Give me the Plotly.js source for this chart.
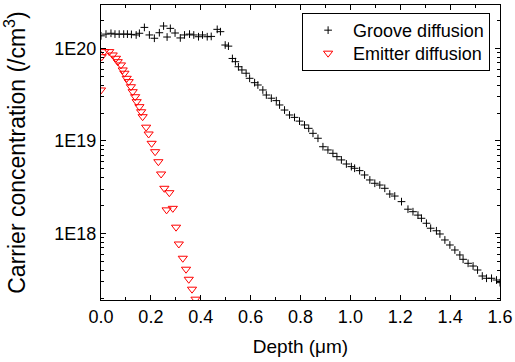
<!DOCTYPE html>
<html><head><meta charset="utf-8">
<script src="https://cdn.plot.ly/plotly-3.0.1.min.js"></script>
<style>html,body{margin:0;padding:0;background:#fff}#chart{width:515px;height:362px}</style>
</head><body><div id="chart"></div>
<script>
// Groove diffusion profile (depth in µm, concentration in /cm^3)
var grooveX = [0.000,0.020,0.040,0.056,0.073,0.091,0.106,0.122,0.141,0.154,0.174,0.194,0.214,0.234,0.251,0.265,0.278,0.297,0.318,0.335,0.355,0.372,0.391,0.407,0.426,0.442,0.466,0.479,
  0.498,0.511,0.527,0.539,0.551,0.565,0.582,0.596,0.616,0.629,0.649,0.663,0.683,0.703,0.716,0.736,0.756,0.776,0.796,0.816,
  0.833,0.850,0.870,0.890,0.910,0.930,0.946,0.964,0.984,1.004,1.017,1.037,1.057,1.078,1.098,1.118,1.138,1.158,1.178,1.205,
  1.231,1.251,1.271,1.285,1.305,1.322,1.345,1.359,1.379,1.399,1.419,1.439,1.452,1.472,1.492,1.510,1.529,1.546,1.566,1.586,1.600];
var grooveY = [1.37e20,1.43e20,1.46e20,1.43e20,1.43e20,1.43e20,1.43e20,1.42e20,1.40e20,1.46e20,1.69e20,1.40e20,1.29e20,1.48e20,1.75e20,1.33e20,1.65e20,1.47e20,1.30e20,1.40e20,1.43e20,1.40e20,1.34e20,1.40e20,1.34e20,1.35e20,1.61e20,1.52e20,
  1.09e20,1.06e20,7.8e19,7.2e19,6.35e19,5.86e19,5.40e19,4.76e19,4.27e19,4.03e19,3.56e19,3.14e19,2.90e19,2.73e19,2.45e19,2.16e19,1.91e19,1.80e19,1.64e19,1.49e19,
  1.37e19,1.21e19,1.07e19,8.67e18,8.0e18,7.36e18,6.77e18,6.24e18,5.64e18,5.28e18,5.07e18,4.78e18,4.29e18,3.79e18,3.49e18,3.34e18,3.08e18,2.67e18,2.54e18,2.21e18,
  1.83e18,1.72e18,1.58e18,1.46e18,1.29e18,1.14e18,1.07e18,9.88e17,8.51e17,7.51e17,6.63e17,5.86e17,5.26e17,4.76e17,4.45e17,4.03e17,3.47e17,3.28e17,3.28e17,3.14e17,2.94e17];

// Emitter diffusion profile
var emitterX = [0.000,0.003,0.013,0.033,0.047,0.060,0.067,0.080,0.087,0.094,0.103,0.111,0.120,0.127,0.137,0.143,0.154,0.161,0.167,
  0.181,0.191,0.203,0.217,0.230,0.241,0.254,0.263,0.274,0.288,0.301,0.312,0.328,0.341,0.352,0.365,0.379];
var emitterY = [3.56e19,8.15e19,9.25e19,9.25e19,8.51e19,7.84e19,7.2e19,6.64e19,5.86e19,5.40e19,4.76e19,4.38e19,3.86e19,3.41e19,3.01e19,2.66e19,2.35e19,2.07e19,1.83e19,
  1.41e19,1.19e19,9.44e18,7.66e18,5.97e18,4.40e18,3.08e18,1.80e18,2.76e18,1.87e18,1.17e18,7.70e17,5.40e17,4.11e17,3.20e17,2.50e17,1.95e17];

var seriesNames = ['Groove diffusion', 'Emitter diffusion'];
var yTickVals = [1e18, 1e19, 1e20];
var yTickText = ['1E18', '1E19', '1E20'];
var xTitle = 'Depth (μm)';
var yTitle = 'Carrier concentration (/cm<sup>3</sup>)';

var minorY = [];
for (var e = 17; e <= 20; e++) { for (var m = 2; m <= 9; m++) { minorY.push(m * Math.pow(10, e)); } }

var FONT = '"Liberation Sans", Arial, sans-serif';

var traces = [
  {x: grooveX, y: grooveY, name: seriesNames[0], type: 'scatter', mode: 'markers',
   marker: {symbol: 'cross-thin-open', size: 5.5, color: '#000', line: {color: '#000', width: 1}}},
  {x: emitterX, y: emitterY, name: seriesNames[1], type: 'scatter', mode: 'markers',
   marker: {symbol: 'triangle-down-open', size: 8, color: '#ff0000', line: {color: '#ff0000', width: 1}}}
];

var axisCommon = {ticks: 'inside', ticklen: 5, tickwidth: 1, tickcolor: '#000', showline: true, linecolor: '#000', linewidth: 1,
  mirror: 'ticks', showgrid: false, zeroline: false, tickfont: {family: FONT, size: 18, color: '#000'}};

var layout = {
  width: 515, height: 362,
  margin: {l: 101, r: 15, t: 5, b: 62},
  paper_bgcolor: '#fff', plot_bgcolor: '#fff',
  font: {family: FONT, size: 18, color: '#000'},
  showlegend: true,
  legend: {x: 0.504, y: 0.973, xanchor: 'left', yanchor: 'top', bordercolor: '#000', borderwidth: 1, bgcolor: '#fff',
    font: {family: FONT, size: 18, color: '#000'}, itemwidth: 40, tracegroupgap: 0},
  xaxis: Object.assign({}, axisCommon, {range: [0, 1.6], tick0: 0, dtick: 0.2, tickformat: '.1f',
    minor: {ticks: 'inside', ticklen: 3, dtick: 0.1, tick0: 0, tickcolor: '#000', showgrid: false},
    title: {text: xTitle, font: {family: FONT, size: 19, color: '#000'}, standoff: 14}}),
  yaxis: Object.assign({}, axisCommon, {type: 'log', range: [17.281, 20.47], tickmode: 'array', tickvals: yTickVals, ticktext: yTickText,
    minor: {ticks: 'inside', ticklen: 3, tickmode: 'array', tickvals: minorY, tickcolor: '#000', showgrid: false},
    title: {text: yTitle, font: {family: FONT, size: 23, color: '#000'}, standoff: 22}})
};

Plotly.newPlot('chart', traces, layout, {displayModeBar: false, staticPlot: true}).then(function (gd) {
  // tighten legend row spacing to match the reference (23 px rows)
  var items = gd.querySelectorAll('.legend .traces');
  if (items.length === 2) {
    var re = /translate\(\s*([-\d.]+)[ ,]\s*([-\d.]+)\s*\)/;
    var m0 = re.exec(items[0].getAttribute('transform') || '');
    var m1 = re.exec(items[1].getAttribute('transform') || '');
    if (m0 && m1) {
      var y0 = parseFloat(m0[2]), y1 = parseFloat(m1[2]);
      var shift = (y1 - y0) - 23;
      var up = 2;
      items[0].setAttribute('transform', 'translate(' + m0[1] + ',' + (y0 - up) + ')');
      items[1].setAttribute('transform', 'translate(' + m1[1] + ',' + (y0 - up + 23) + ')');
      var bg = gd.querySelector('.legend .bg');
      if (bg && shift > 0) {
        var h = parseFloat(bg.getAttribute('height'));
        bg.setAttribute('height', h - shift - 2 * up);
      }
    }
  }
});
</script></body></html>
